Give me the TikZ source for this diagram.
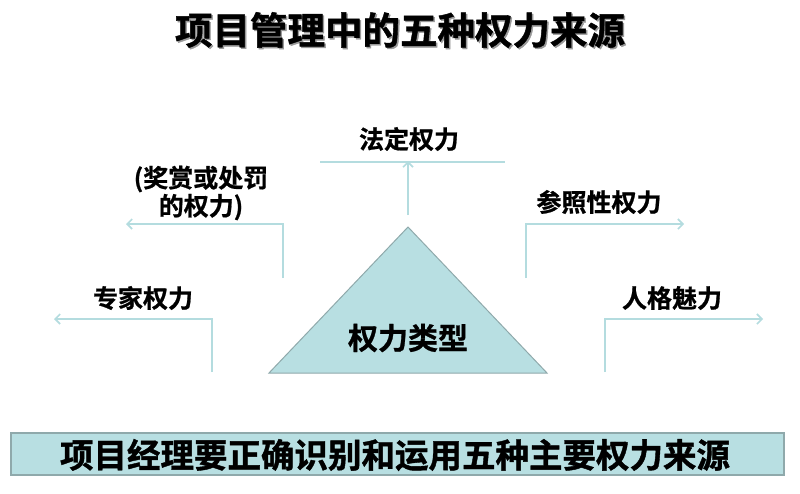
\documentclass[tikz,border=0pt]{standalone}
\usepackage{fontspec}
\newfontfamily\cjklbl{Noto Sans CJK SC Bold}[FakeBold=0.8]
\newfontfamily\cjkheavy{Noto Sans CJK SC Bold}[FakeBold=1.2]
\usetikzlibrary{arrows.meta}
\definecolor{teal1}{HTML}{B8DFE2}
\definecolor{tealline}{HTML}{B4DCDF}
\definecolor{tealedge}{HTML}{8FA9AB}
\tikzset{
  lbl/.style={font=\cjklbl\fontsize{25}{28}\selectfont, align=center, inner sep=0pt},
  conn/.style={draw=tealline, line width=1.8pt, -{Straight Barb[length=5pt,width=10pt,line width=1.6pt]}},
  plain/.style={draw=tealline, line width=1.8pt},
}
\begin{document}
\begin{tikzpicture}[x=1pt,y=-1pt]
\useasboundingbox (0,0) rectangle (800,493);
% title
\node[font=\cjkheavy\fontsize{37.5}{40}\selectfont, text=black!40, inner sep=0pt] at (401.5,31.5) {项目管理中的五种权力来源};
\node[font=\cjkheavy\fontsize{37.5}{40}\selectfont, inner sep=0pt] (title) at (400,30) {项目管理中的五种权力来源};
% triangle
\draw[fill=teal1, draw=tealedge, line width=1pt] (408,227) -- (547,373) -- (269,373) -- cycle;
\node[font=\cjklbl\fontsize{30}{32}\selectfont, inner sep=0pt] (core) at (408,338) {权力类型};
% top
\coordinate (tstart) at (408,215);
\coordinate (ttip) at (408,161);
\draw[conn] (tstart) -- (ttip);
\coordinate (tl) at (320,162);
\coordinate (tr) at (505,162);
\draw[plain] (tl) -- (tr);
\node[lbl] (legal) at (409,139) {法定权力};
% left 1
\coordinate (l1s) at (283,278);
\coordinate (l1c) at (283,224);
\coordinate (l1t) at (126,224);
\draw[conn] (l1s) -- (l1c) -- (l1t);
\node[lbl] (reward) at (201,193) {(奖赏或处罚\\的权力)};
% left 2
\coordinate (l2s) at (212,372);
\coordinate (l2c) at (212,319);
\coordinate (l2t) at (54,319);
\draw[conn] (l2s) -- (l2c) -- (l2t);
\node[lbl] (expert) at (143,298) {专家权力};
% right 1
\coordinate (r1s) at (526,278);
\coordinate (r1c) at (526,224);
\coordinate (r1t) at (684,224);
\draw[conn] (r1s) -- (r1c) -- (r1t);
\node[lbl] (refer) at (599,202) {参照性权力};
% right 2
\coordinate (r2s) at (605,372);
\coordinate (r2c) at (605,319);
\coordinate (r2t) at (763,319);
\draw[conn] (r2s) -- (r2c) -- (r2t);
\node[lbl] (charm) at (672,298) {人格魅力};
% bottom box
\draw[fill=teal1, draw=tealedge, line width=1.2pt] (11,433) rectangle (784,475);
\node[font=\cjkheavy\fontsize{33.5}{36}\selectfont, inner sep=0pt] (bottom) at (395,455) {项目经理要正确识别和运用五种主要权力来源};
\end{tikzpicture}
\end{document}
